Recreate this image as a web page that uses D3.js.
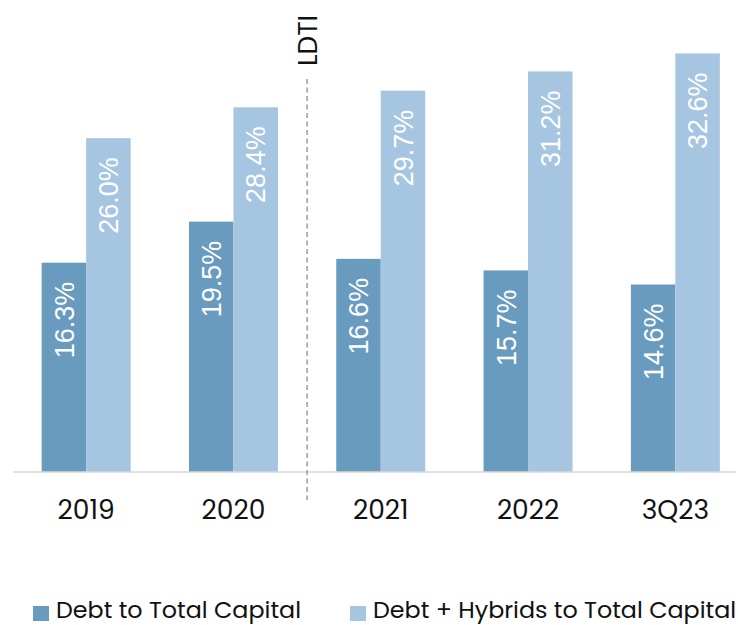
<!DOCTYPE html>
<html>
<head>
<meta charset="utf-8">
<script src="https://cdn.jsdelivr.net/npm/d3@7"></script>
<style>
  body { margin: 0; background: #fff; }
  svg { display: block; }
</style>
</head>
<body>
<svg id="chart" width="738" height="625"></svg>
<script>
// data
const categories = ["2019", "2020", "2021", "2022", "3Q23"];
const debtToCapital = [16.3, 19.5, 16.6, 15.7, 14.6];
const debtHybridsToCapital = [26.0, 28.4, 29.7, 31.2, 32.6];
const seriesNames = ["Debt to Total Capital", "Debt + Hybrids to Total Capital"];
const seriesColors = ["#699bbf", "#a5c5e0"];
const markerLabel = "LDTI";

const svg = d3.select("#chart");
const baseY = 472;
const labelFont = "Poppins, 'Open Sans', sans-serif";

// scales
const x0 = d3.scaleBand().domain(categories).range([12.5, 749]).paddingInner(0.396).paddingOuter(0.198);
const x1 = d3.scaleBand().domain([0, 1]).range([0, x0.bandwidth()]);
const y = d3.scaleLinear().domain([0, 36.76]).range([baseY, 0]);

const rows = categories.map((c, i) => ({ cat: c, vals: [debtToCapital[i], debtHybridsToCapital[i]] }));

// bars
const groups = svg.append("g").selectAll("g")
  .data(rows).enter().append("g")
  .attr("transform", d => "translate(" + x0(d.cat) + ",0)");

groups.selectAll("rect")
  .data(d => d.vals.map((v, k) => ({ v, k })))
  .enter().append("rect")
  .attr("x", d => x1(d.k))
  .attr("y", d => y(d.v))
  .attr("width", x1.bandwidth())
  .attr("height", d => baseY - y(d.v))
  .attr("fill", d => seriesColors[d.k]);

// value labels, rotated inside the bars
groups.selectAll("text")
  .data(d => d.vals.map((v, k) => ({ v, k })))
  .enter().append("text")
  .attr("transform", d => "translate(" + (x1(d.k) + x1.bandwidth() / 2) + "," + (y(d.v) + 19) + ")rotate(-90)")
  .attr("text-anchor", "end")
  .attr("dy", "0.36em")
  .style("font-family", "'Liberation Sans', Arial, sans-serif")
  .style("font-size", "27px")
  .style("fill", "#fff")
  .text(d => d.v.toFixed(1) + "%");

// x axis
const xAxis = svg.append("g")
  .attr("transform", "translate(0," + baseY + ")")
  .call(d3.axisBottom(x0).tickSize(0).tickPadding(28));
xAxis.select(".domain").attr("d", "M13,0H736").attr("stroke", "#d9d9d9").attr("stroke-width", 1.5);
xAxis.selectAll("text")
  .style("font-family", labelFont)
  .style("font-size", "26.5px")
  .style("fill", "#111");

// LDTI marker between 2020 and 2021
const markX = (x0("2020") + x0.bandwidth() + x0("2021")) / 2;
svg.append("line")
  .attr("x1", markX).attr("x2", markX)
  .attr("y1", 79).attr("y2", 500)
  .attr("stroke", "#9a9a9a")
  .attr("stroke-width", 1.5)
  .attr("stroke-dasharray", "5,3.5");
svg.append("text")
  .attr("transform", "translate(" + markX + ",15)rotate(-90)")
  .attr("text-anchor", "end")
  .attr("dy", "0.36em")
  .style("font-family", labelFont)
  .style("font-size", "26.5px")
  .style("fill", "#111")
  .text(markerLabel);

// legend
const legendX = [33, 350];
const legend = svg.append("g").selectAll("g")
  .data(seriesNames).enter().append("g")
  .attr("transform", (d, i) => "translate(" + legendX[i] + ",606)");
legend.append("rect")
  .attr("width", 16).attr("height", 15)
  .attr("fill", (d, i) => seriesColors[i]);
legend.append("text")
  .attr("x", 23).attr("y", 12)
  .style("font-family", labelFont)
  .style("font-size", "23.8px")
  .style("fill", "#111")
  .text(d => d);
</script>
</body>
</html>
